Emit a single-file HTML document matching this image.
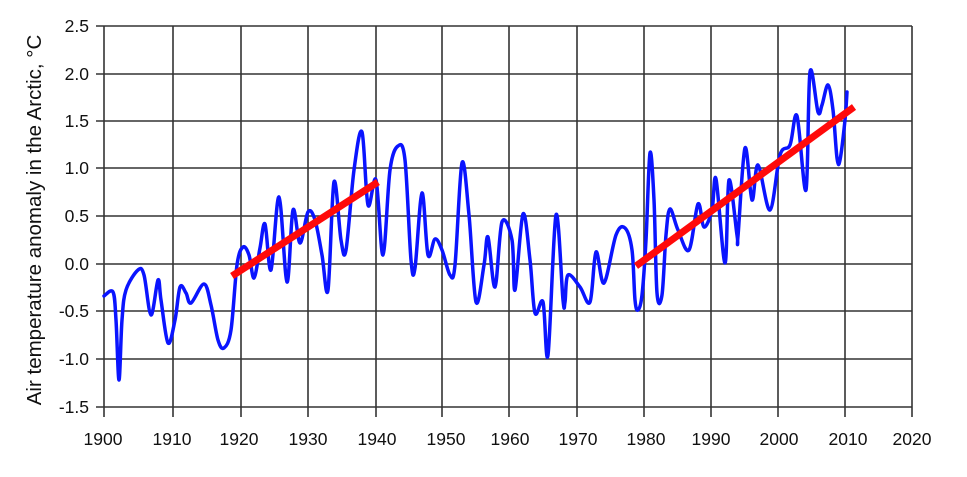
<!DOCTYPE html>
<html><head><meta charset="utf-8"><style>
html,body{margin:0;padding:0;background:#fff;width:967px;height:477px;overflow:hidden}
</style></head><body>
<svg width="967" height="477" viewBox="0 0 967 477" xmlns="http://www.w3.org/2000/svg" font-family="'Liberation Sans',sans-serif">
<g stroke="#333" stroke-width="1.6">
<line x1="96" y1="26" x2="912" y2="26"/><line x1="96" y1="74" x2="912" y2="74"/>
<line x1="96" y1="121" x2="912" y2="121"/><line x1="96" y1="168" x2="912" y2="168"/>
<line x1="96" y1="216" x2="912" y2="216"/><line x1="96" y1="264" x2="912" y2="264"/>
<line x1="96" y1="311" x2="912" y2="311"/><line x1="96" y1="359" x2="912" y2="359"/>
<line x1="96" y1="407" x2="912" y2="407"/>
<line x1="104" y1="26" x2="104" y2="417"/><line x1="173" y1="26" x2="173" y2="417"/>
<line x1="241" y1="26" x2="241" y2="417"/><line x1="308" y1="26" x2="308" y2="417"/>
<line x1="376" y1="26" x2="376" y2="417"/><line x1="442" y1="26" x2="442" y2="417"/>
<line x1="509" y1="26" x2="509" y2="417"/><line x1="577" y1="26" x2="577" y2="417"/>
<line x1="644" y1="26" x2="644" y2="417"/><line x1="711" y1="26" x2="711" y2="417"/>
<line x1="778" y1="26" x2="778" y2="417"/><line x1="845" y1="26" x2="845" y2="417"/>
<line x1="912" y1="26" x2="912" y2="417"/>
</g>
<g font-size="17.5" fill="#111" text-anchor="end">
<text x="89" y="32">2.5</text><text x="89" y="80">2.0</text><text x="89" y="127">1.5</text>
<text x="89" y="174">1.0</text><text x="89" y="222">0.5</text><text x="89" y="270">0.0</text>
<text x="89" y="317">-0.5</text><text x="89" y="365">-1.0</text><text x="89" y="413">-1.5</text>
</g>
<g font-size="17.5" fill="#111" text-anchor="middle">
<text x="103" y="445">1900</text><text x="172" y="445">1910</text><text x="239" y="445">1920</text>
<text x="308" y="445">1930</text><text x="377" y="445">1940</text><text x="446" y="445">1950</text>
<text x="510" y="445">1960</text><text x="578" y="445">1970</text><text x="646" y="445">1980</text>
<text x="711" y="445">1990</text><text x="779" y="445">2000</text><text x="848" y="445">2010</text>
<text x="912" y="445">2020</text>
</g>
<text transform="translate(41,220) rotate(-90)" font-size="20.5" fill="#111" text-anchor="middle">Air temperature anomaly in the Arctic, °C</text>
<polyline id="c" fill="none" stroke="#0a14ff" stroke-width="3.5" stroke-linejoin="round" stroke-linecap="round" points="
104,296 113,292 116,320 119,380 122,320 126,290 138,270 144,275 151,315 158,280 161,300 168,343 175,320 180,287 186,293 191,303 204,284 211,305 218,340 224,348 231,330 237,265 243,247 249,255 254,278 260,248 265,224 271,270 279,197 287,282 293,210 300,243 308,212 315,220 322,255 328,290 334,182 341,240 346,250 354,170 362,132 368,205 376,180 383,255 390,170 398,146 405,160 411,260 415,268 422,193 428,255 435,239 442,250 450,275 455,265 462,163 469,215 476,302 484,265 488,237 495,287 502,222 512,240 515,290 523,214 530,260 535,313 543,302 548,355 556,215 563,300 565,302 568,275 580,287 590,302 596,252 604,283 616,235 625,228 632,250 635,300 638,310 642,295 646,240 650,153 654,200 657,293 662,295 666,235 670,209 678,230 689,250 698,204 704,227 712,210 716,179 725,263 729,180 737,235 738,236 745,148 752,200 758,165 770,210 780,155 790,145 797,116 806,190 810,72 818,112 822,105 828,85 833,110 837,158 840,160 845,120 847,92"/>
<line x1="232" y1="276" x2="378" y2="182" stroke="#ff0a0a" stroke-width="7"/>
<line x1="636" y1="266" x2="854" y2="107" stroke="#ff0a0a" stroke-width="7"/>
</svg>
<script>
(function(){
var pl=document.getElementById('c');
var p=pl.getAttribute('points').trim().split(/\s+/).map(function(s){return s.split(',').map(Number);});
var d='M'+p[0][0]+','+p[0][1];
for(var i=0;i<p.length-1;i++){
var p0=p[i-1]||p[i],p1=p[i],p2=p[i+1],p3=p[i+2]||p2,t=6;
d+=' C'+(p1[0]+(p2[0]-p0[0])/t)+','+(p1[1]+(p2[1]-p0[1])/t)+' '+(p2[0]-(p3[0]-p1[0])/t)+','+(p2[1]-(p3[1]-p1[1])/t)+' '+p2[0]+','+p2[1];
}
var path=document.createElementNS('http://www.w3.org/2000/svg','path');
['fill','stroke','stroke-width','stroke-linejoin','stroke-linecap'].forEach(function(a){path.setAttribute(a,pl.getAttribute(a));});
path.setAttribute('d',d);
pl.parentNode.replaceChild(path,pl);
})();
</script>
</body></html>
